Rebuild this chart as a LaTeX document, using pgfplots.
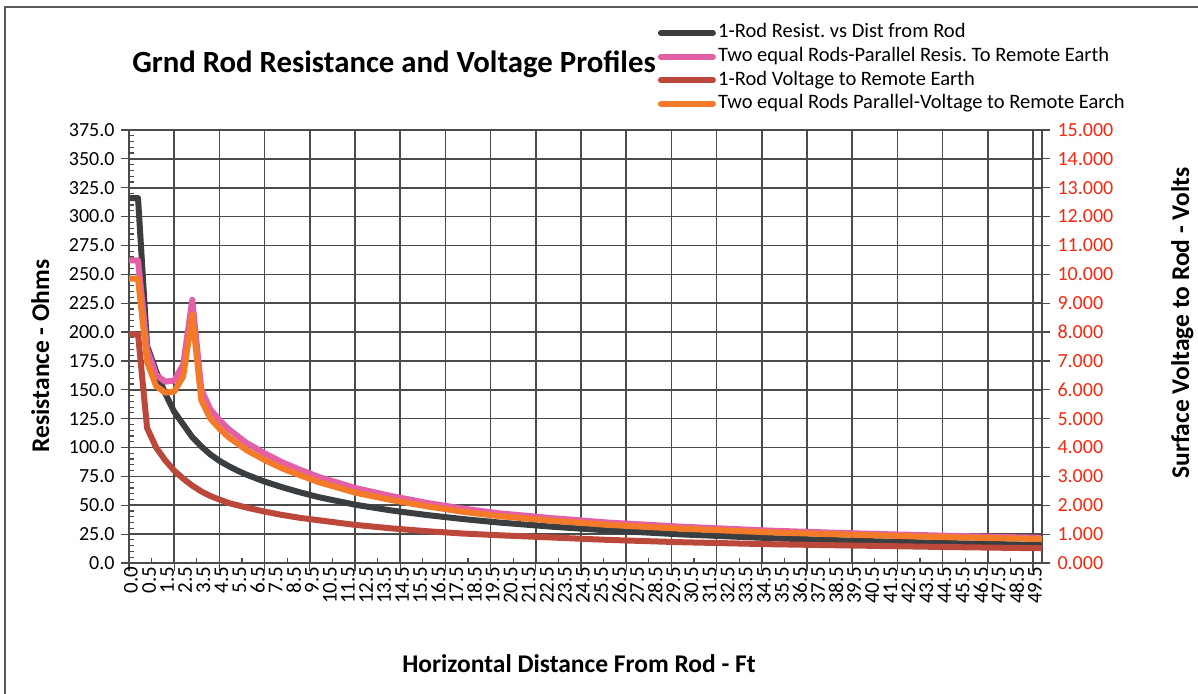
\documentclass[border=0pt]{standalone}
\usepackage{fontspec}
\setmainfont{Carlito}
\usepackage{pgfplots}
\pgfplotsset{compat=1.18}
\usepackage{pgfplotstable}
\frenchspacing

\definecolor{cblack}{RGB}{58,62,64}
\definecolor{cpink}{RGB}{228,96,166}
\definecolor{cred}{RGB}{188,72,60}
\definecolor{corange}{RGB}{242,122,40}
\definecolor{tickred}{RGB}{245,40,15}
\definecolor{gridc}{RGB}{75,75,75}

% i = category index (0 -> 0.0 ft, 1 -> first step, i>=2 -> (i-1)*0.5 ft)
\pgfplotstableread{
i    black  pink   red   orange
0    316    262    7.92  9.85
1    316    262    7.92  9.85
2    188    185    4.68  6.96
3    166    163    4.00  6.13
4    147    157    3.56  5.90
5    131    158    3.20  5.94
6    120    172    2.92  6.47
7    109    228    2.68  8.60
8    101    150    2.48  5.64
9    94     133    2.32  5.00
10   88.5   124    2.20  4.66
11   84     116    2.08  4.36
12   80     110    2.00  4.14
13   76.5   104    1.92  3.91
15   70.5   95     1.78  3.57
17   65.5   87     1.66  3.27
19   61     80.5   1.56  3.03
21   57     74.5   1.48  2.80
25   50.5   65     1.32  2.44
29   45.5   58     1.20  2.18
33   41.5   52     1.10  1.96
37   38     47     1.02  1.77
41   35     43     0.96  1.62
47   31.3   38.7   0.88  1.46
53   28.2   35     0.80  1.32
61   24.8   31.5   0.72  1.19
71   21.5   28     0.65  1.06
81   19.1   25.5   0.60  0.97
91   17.2   23.5   0.55  0.89
101  15.6   21.8   0.51  0.83
}\data

\pgfplotsset{
  base/.style={scale only axis, width=913bp, height=433bp,
    at={(129bp,131bp)}, anchor=south west, xmin=0, xmax=101},
  ln/.style={line width=6bp, line join=round, line cap=round},
}

\begin{document}
\begin{tikzpicture}[x=1bp,y=1bp]
\path[use as bounding box] (0,0) rectangle (1198,694);
\draw[line width=1.3bp, gray!70!black] (5,-2) -- (5,687) -- (1200,687);

% left axis: grid, resistance series
\begin{axis}[base, ymin=0, ymax=375,
  axis x line*=bottom, axis y line*=left,
  axis line style={gridc, line width=1.6bp, -},
  xtick={0,5,...,100}, xticklabels={},
  minor xtick={2.5,7.5,...,97.5},
  ytick={0,25,...,375}, minor y tick num=4,
  grid=major, major grid style={gridc, line width=1.6bp},
  tick style={gridc, line width=1.2bp},
  tick align=outside, major tick length=8bp, minor tick length=-5bp,
  yticklabel style={font=\fontsize{20bp}{24bp}\selectfont, xshift=-3bp,
    /pgf/number format/.cd, fixed, fixed zerofill, precision=1, assume math mode=true},
]
\addplot[cblack, ln] table[x=i, y=black]{\data};
\addplot[cpink, ln] table[x=i, y=pink]{\data};
\end{axis}

% right axis: voltage series + legend
\begin{axis}[base, ymin=0, ymax=15,
  axis x line=none, axis y line*=right,
  axis line style={gridc, line width=1.6bp, -},
  ytick={0,1,...,15},
  tick style={gridc, line width=1.2bp},
  tick align=outside, major tick length=8bp,
  yticklabel style={font=\fontsize{20bp}{24bp}\selectfont, text=tickred, xshift=4bp,
    /pgf/number format/.cd, fixed, fixed zerofill, precision=3, assume math mode=true},
  legend style={at={(0.5791,1.2517)}, anchor=north west, draw=none, fill=none,
    inner sep=0pt, row sep=0pt,
    font=\fontsize{20.5bp}{24bp}\selectfont,
    nodes={inner sep=2.3bp, text height=14.5bp, text depth=4.5bp}},
  legend cell align=left,
  legend image code/.code={\draw[#1] (0bp,0bp) -- (52bp,0bp);},
]
\addlegendimage{cblack, ln}
\addlegendentry{1-Rod Resist. vs Dist from Rod}
\addlegendimage{cpink, ln}
\addlegendentry{Two equal Rods-Parallel Resis. To Remote Earth}
\addplot[cred, ln] table[x=i, y=red]{\data};
\addlegendentry{1-Rod Voltage to Remote Earth}
\addplot[corange, ln] table[x=i, y=orange]{\data};
\addlegendentry{Two equal Rods Parallel-Voltage to Remote Earch}
\end{axis}

% x tick labels
\begin{axis}[base, ymin=0, ymax=1,
  axis x line*=bottom, axis y line=none,
  x axis line style={draw=none},
  major tick length=0pt, ytick=\empty,
  xtick={0,2,...,100},
  xticklabels={0.0,0.5,1.5,2.5,3.5,4.5,5.5,6.5,7.5,8.5,9.5,10.5,11.5,12.5,13.5,14.5,15.5,16.5,17.5,18.5,19.5,20.5,21.5,22.5,23.5,24.5,25.5,26.5,27.5,28.5,29.5,30.5,31.5,32.5,33.5,34.5,35.5,36.5,37.5,38.5,39.5,40.5,41.5,42.5,43.5,44.5,45.5,46.5,47.5,48.5,49.5},
  xticklabel style={rotate=90, anchor=east, font=\fontsize{21bp}{25bp}\selectfont, yshift=-2bp},
]
\end{axis}

\node[font=\fontsize{30.8bp}{36bp}\selectfont\bfseries, anchor=base] at (394,621) {Grnd Rod Resistance and Voltage Profiles};
\node[font=\fontsize{25.5bp}{30bp}\selectfont\bfseries, anchor=base] at (579,21) {Horizontal Distance From Rod - Ft};
\node[font=\fontsize{25.5bp}{30bp}\selectfont\bfseries, anchor=base, rotate=90] at (49,338) {Resistance - Ohms};
\node[font=\fontsize{25.5bp}{30bp}\selectfont\bfseries, anchor=base, rotate=90] at (1189,371) {Surface Voltage to Rod - Volts};
\end{tikzpicture}
\end{document}
